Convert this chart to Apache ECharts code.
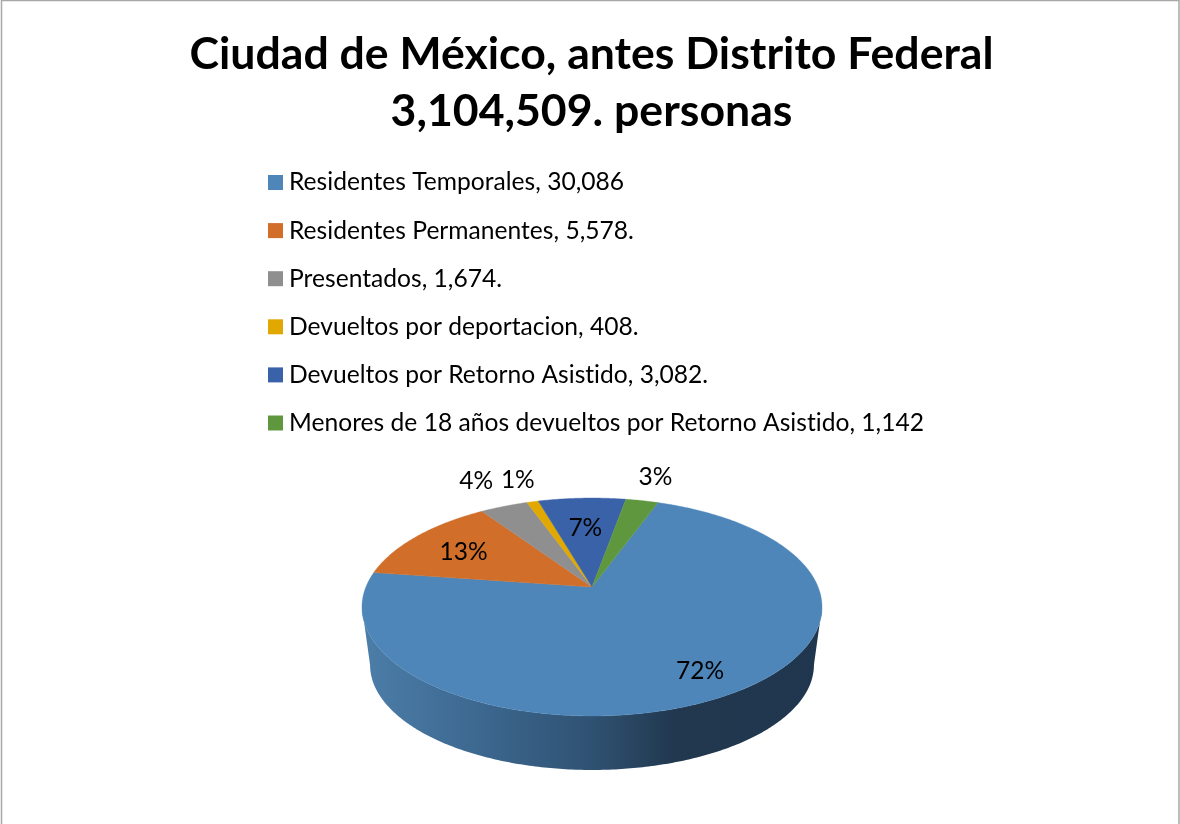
<!DOCTYPE html>
<html>
<head>
<meta charset="utf-8">
<title>Ciudad de México</title>
<style>
html,body{margin:0;padding:0;background:#fff;overflow:hidden}
#chart{width:1180px;height:824px}
</style>
<script src="https://cdn.jsdelivr.net/npm/echarts@6/dist/echarts.min.js"></script>
</head>
<body>
<div id="chart"></div>
<script>
// Chart content
const titleLines = ['Ciudad de México, antes Distrito Federal', '3,104,509. personas'];
const categories = [
  'Residentes Temporales, 30,086',
  'Residentes Permanentes, 5,578.',
  'Presentados, 1,674.',
  'Devueltos por deportacion, 408.',
  'Devueltos por Retorno Asistido, 3,082.',
  'Menores de 18 años devueltos por Retorno Asistido, 1,142'
];
const values = [30086, 5578, 1674, 408, 3082, 1142];
const colors = ['#4e86b9', '#d06e2a', '#8f8f8f', '#e0a800', '#3a62a8', '#5f973e'];

// Tilted-disc projection: the disc centre sits above the visual centre of the ellipse
const FONT = 'Lato, "Open Sans", sans-serif';
const START_ANGLE = 20;
const DISC = { cx: 592, apexY: 587, radiusX: 226.1, radiusY: 105.3, tilt: -0.1835 };
const FLOOR = { scale: 0.965, apexY: 645.5 };
// Where each percentage sits: distance along the mid-angle (1 = rim) and a small angular nudge
const LABEL_RADIUS = [0.81, 0.70, 1.39, 1.305, 0.625, 1.33];
const LABEL_NUDGE = [0, -1.8, 0, 0, 0, 0];

// A tiny letter spacing keeps the "ti" pairs as separate glyphs
const baseFillText = CanvasRenderingContext2D.prototype.fillText;
CanvasRenderingContext2D.prototype.fillText = function (text, x, y, maxWidth) {
  this.letterSpacing = '0.01px';
  return maxWidth === undefined
    ? baseFillText.call(this, text, x, y)
    : baseFillText.call(this, text, x, y, maxWidth);
};

const total = values.reduce((a, b) => a + b, 0);

function project(deg, r, scale, apexY) {
  const t = deg * Math.PI / 180;
  const u = r * Math.sin(t), v = -r * Math.cos(t);
  const w = 1 + DISC.tilt * v;
  return [DISC.cx + scale * DISC.radiusX * u / w, apexY + scale * DISC.radiusY * v / w];
}

function rimPoints(from, to, scale, apexY) {
  const steps = Math.max(2, Math.ceil(Math.abs(to - from) * 1.5));
  const pts = [];
  for (let i = 0; i <= steps; i++) {
    pts.push(project(from + (to - from) * i / steps, 1, scale, apexY));
  }
  return pts;
}

function renderSlice(params, api) {
  const idx = params.seriesIndex;
  const value = api.value(0);
  const from = START_ANGLE + api.value(1) / total * 360;
  const to = from + value / total * 360;
  const mid = (from + to) / 2;
  const children = [];

  // The rim wall is only visible along the front, which lies inside the largest slice
  if (idx === 0) {
    const upper = rimPoints(100.6, 259.4, 1, DISC.apexY);
    const lower = rimPoints(259.4, 100.6, FLOOR.scale, FLOOR.apexY);
    children.push({
      type: 'polygon',
      shape: { points: upper.concat(lower) },
      style: {
        fill: new echarts.graphic.LinearGradient(0, 0, 1, 0, [
          { offset: 0, color: '#4c7ea9' },
          { offset: 0.25, color: '#3d6890' },
          { offset: 0.5, color: '#2f5272' },
          { offset: 0.68, color: '#21384f' },
          { offset: 1, color: '#1f364e' }
        ])
      }
    });
  }

  const top = [[DISC.cx, DISC.apexY]].concat(rimPoints(from, to, 1, DISC.apexY));
  children.push({
    type: 'polygon',
    shape: { points: top },
    style: { fill: colors[idx], stroke: colors[idx], lineWidth: 0.4 },
    z2: 2
  });

  const at = project(mid + LABEL_NUDGE[idx], LABEL_RADIUS[idx], 1, DISC.apexY);
  children.push({
    type: 'text',
    x: at[0],
    y: at[1],
    z2: 10,
    style: {
      text: Math.round(value / total * 100) + '%',
      fontFamily: FONT,
      fontSize: 24.5,
      fill: '#000',
      align: 'center',
      verticalAlign: 'middle'
    }
  });
  return { type: 'group', children: children };
}

let running = 0;
const series = values.map((v, i) => {
  const before = running;
  running += v;
  return {
    type: 'custom',
    name: categories[i],
    coordinateSystem: 'none',
    renderItem: renderSlice,
    itemStyle: { color: colors[i] },
    data: [[v, before]],
    silent: true
  };
});

const chart = echarts.init(document.getElementById('chart'), null, { renderer: 'canvas' });
chart.setOption({
  animation: false,
  backgroundColor: '#fff',
  title: {
    text: titleLines.join('\n'),
    left: 586.5,
    top: 21,
    textAlign: 'center',
    textStyle: {
      fontFamily: FONT,
      fontWeight: 'bold',
      fontSize: 44.6,
      lineHeight: 57,
      color: '#000'
    }
  },
  legend: {
    orient: 'vertical',
    left: 268,
    top: 170,
    icon: 'rect',
    itemWidth: 15,
    itemHeight: 15,
    itemGap: 23.1,
    padding: 0,
    selectedMode: false,
    data: categories,
    textStyle: { fontFamily: FONT, fontSize: 24.6, color: '#000', padding: [0, 0, 0, 1], lineHeight: 24 }
  },
  graphic: [{
    type: 'rect',
    silent: true,
    shape: { x: 1.5, y: 0.5, width: 1177.5, height: 860 },
    style: { fill: 'none', stroke: '#a8a8a8', lineWidth: 1.5 }
  }],
  series: series
});
</script>
</body>
</html>
